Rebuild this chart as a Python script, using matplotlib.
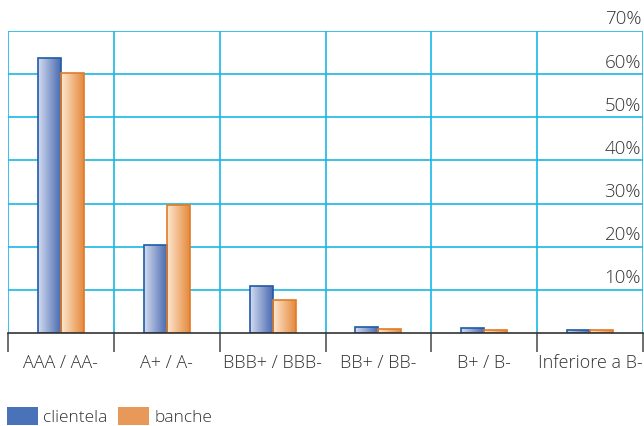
import numpy as np
import matplotlib
matplotlib.use("Agg")
import matplotlib.pyplot as plt
from matplotlib.patches import Patch
from matplotlib.colors import LinearSegmentedColormap
from matplotlib.transforms import blended_transform_factory

plt.rcParams['font.family'] = ['Open Sans', 'DejaVu Sans']
plt.rcParams['font.weight'] = 'light'

# data (percent)
categories = ['AAA / AA-', 'A+ / A-', 'BBB+ / BBB-', 'BB+ / BB-', 'B+ / B-', 'Inferiore a B-']
clientela = [63.8, 20.3, 10.8, 1.3, 1.1, 0.6]
banche = [60.3, 29.6, 7.6, 0.9, 0.6, 0.6]
y_ticks = [10, 20, 30, 40, 50, 60, 70]

grid_col = '#1ab8e8'
text_col = '#333333'

fig = plt.figure(figsize=(6.44, 4.26), dpi=100)
ax = fig.add_axes([8 / 644, (426 - 333) / 426, 635 / 644, 302 / 426])

x = np.arange(len(categories))
w = 0.217
blue_cmap = LinearSegmentedColormap.from_list('b', ['#d4dcef', '#8fa3d0', '#4a6cb0'])
orange_cmap = LinearSegmentedColormap.from_list('o', ['#fde8d2', '#f2b886', '#e58a3e'])
grad = np.linspace(0, 1, 64).reshape(1, -1)

for vals, off, cmap, ec in [(clientela, -w / 2, blue_cmap, '#1f5aa6'),
                             (banche, w / 2, orange_cmap, '#e07b28')]:
    bars = ax.bar(x + off, vals, w, facecolor='none', edgecolor=ec, linewidth=1.2, zorder=4)
    for b in bars:
        x0, y0 = b.get_x(), b.get_y()
        im = ax.imshow(grad, cmap=cmap, aspect='auto', zorder=3,
                       extent=[x0, x0 + b.get_width(), y0, y0 + b.get_height()])
        im.set_clip_path(b)

ax.set_xlim(-0.5, len(categories) - 0.5)
ax.set_ylim(0, 70)

# grid
for v in y_ticks:
    ax.axhline(v, color=grid_col, lw=1.2, zorder=1)
for b in np.arange(-0.5, len(categories), 1.0):
    ax.axvline(b, color=grid_col, lw=1.2, zorder=1)

for s in ['top', 'right', 'left']:
    ax.spines[s].set_visible(False)
ax.spines['bottom'].set_color('#333333')
ax.spines['bottom'].set_linewidth(1.2)
ax.spines['bottom'].set_zorder(5)

ax.set_yticks([])
ax.set_xticks(np.arange(-0.5, len(categories), 1.0))
ax.set_xticklabels([])
ax.tick_params(axis='x', length=14, width=1.2, color='#555555')
ax.set_xticks(x, minor=True)
ax.set_xticklabels(categories, minor=True, fontsize=13, color=text_col)
ax.tick_params(axis='x', which='minor', length=0, pad=15)

trans = blended_transform_factory(ax.transAxes, ax.transData)
for v in y_ticks:
    ax.text(0.997, v + 0.6, f'{v}%', transform=trans, ha='right', va='bottom',
            fontsize=13.5, color=text_col, clip_on=False)

handles = [Patch(facecolor='#4a72b8', edgecolor='none', label='clientela'),
           Patch(facecolor='#e8995a', edgecolor='none', label='banche')]
fig.legend(handles=handles, loc='lower left', bbox_to_anchor=(0.0, -0.016), ncol=2,
           frameon=False, fontsize=12.5, handlelength=1.8, handleheight=1.2,
           handletextpad=0.3, columnspacing=0.6, borderaxespad=0.0,
           labelcolor=text_col)

fig.savefig('out.png', dpi=100)
